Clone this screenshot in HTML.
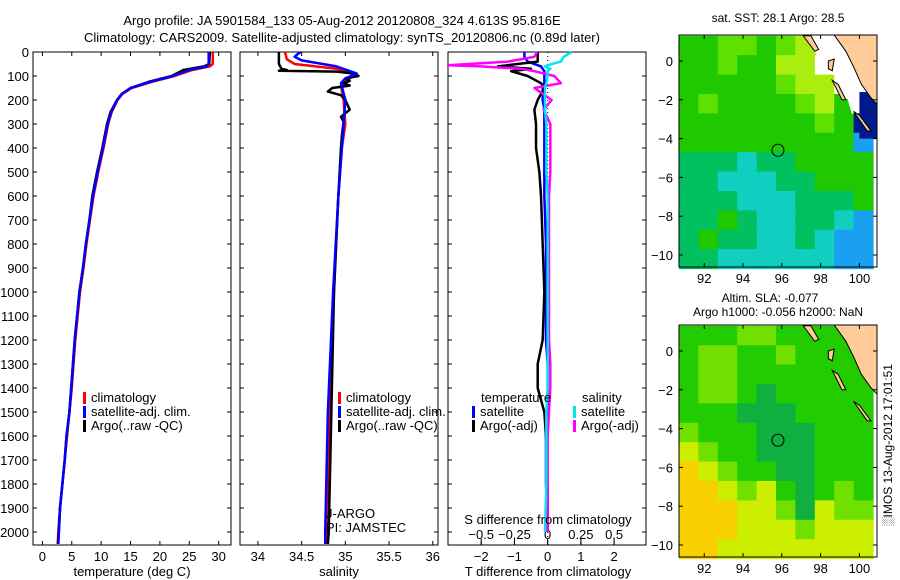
<!DOCTYPE html>
<html><head><meta charset="utf-8"><style>
body{margin:0;background:#fff}
svg{display:block;font-family:"Liberation Sans",sans-serif;font-size:13px}
</style></head><body>
<svg id="fig" width="900" height="580" viewBox="0 0 900 580" xmlns="http://www.w3.org/2000/svg">
<text x="342" y="25" text-anchor="middle">Argo profile: JA 5901584_133 05-Aug-2012 20120808_324 4.613S 95.816E</text>
<text x="342" y="42" text-anchor="middle">Climatology: CARS2009. Satellite-adjusted climatology: synTS_20120806.nc (0.89d later)</text>
<g id="g"></g>
</svg>
<script>
// ---- data ----
const tDepth=[0,50,60,75,100,125,150,175,200,250,300,400,500,600,700,800,900,1000,1100,1200,1300,1400,1500,1600,1700,1800,1900,2000,2050];
const tArgo=[28.5,28.4,27.5,24,22,18,15,13.5,12.7,11.6,11,10.2,9.3,8.5,8.0,7.4,6.9,6.3,5.9,5.5,5.2,4.9,4.6,4.1,3.8,3.4,3.0,2.8,2.7];
const tClim=[29.0,29.0,28.5,25.5,22.5,18.5,15.2,13.6,12.8,11.8,11.2,10.4,9.5,8.7,8.1,7.5,7.0,6.4,6.0,5.6,5.3,5.0,4.6,4.2,3.8,3.4,3.0,2.7,2.6];
const tSat=[28.3,28.3,28.0,25.0,22.2,18.2,15.0,13.5,12.7,11.7,11.1,10.3,9.4,8.6,8.0,7.4,6.9,6.3,5.9,5.5,5.2,4.9,4.6,4.1,3.8,3.4,3.0,2.8,2.7];
const sArgoD=[0,50,70,75,78,82,90,100,110,120,130,140,150,165,180,200,240,270,290,350,400,600,1000,1500,2000,2050];
const sArgo=[34.24,34.24,34.27,34.33,34.24,34.9,35.1,35.15,35.0,35.05,34.98,35.05,34.85,34.8,34.95,35.0,35.05,34.95,34.98,34.96,34.95,34.92,34.87,34.84,34.81,34.8];
const sClimD=[0,30,50,70,90,110,140,200,300,400,600,1000,1500,2000,2050];
const sClim=[34.31,34.33,34.42,34.9,35.12,35.05,34.95,34.98,35.0,34.96,34.92,34.87,34.82,34.79,34.78];
const sSatD=[0,10,20,35,60,90,110,130,200,300,600,1000,1500,2000,2050];
const sSat=[34.49,34.45,34.42,34.5,34.9,35.13,35.0,34.95,35.0,34.98,34.92,34.86,34.8,34.77,34.77];
const dD=[0,20,40,55,60,70,80,100,130,150,200,240,300,400,500,600,800,1000,1200,1300,1400,1500,1600,1800,2000];
const dTsat=[-0.7,-0.7,-0.6,-0.3,-0.2,-0.15,-0.1,-0.1,-0.1,-0.15,-0.15,-0.1,-0.1,-0.1,-0.1,-0.1,-0.05,-0.05,-0.05,0,0,0,-0.05,-0.05,0];
const dTargo=[-0.3,-0.3,-0.3,-1.2,-1.5,-0.5,-1.1,-0.6,-0.2,-0.1,-0.3,-0.4,-0.35,-0.35,-0.25,-0.2,-0.15,-0.1,-0.15,-0.3,-0.3,-0.1,-0.05,0,0];
const dSsat=[0.18,0.12,0.1,0.0,-0.02,0.02,0.0,0.0,-0.01,-0.02,-0.02,-0.02,-0.01,-0.01,-0.01,0,0,0,0,0,0,-0.01,-0.01,-0.01,-0.02];
const dSargo=[-0.08,-0.1,-0.3,-0.75,-0.5,-0.2,-0.1,0.05,0.1,-0.1,0.03,-0.03,0.02,0.02,0.02,0.01,0.01,0.01,0.01,0.02,0.02,0.01,0,0,0];
const depthTicks=[0,100,200,300,400,500,600,700,800,900,1000,1100,1200,1300,1400,1500,1600,1700,1800,1900,2000];
const tTicks=[0,5,10,15,20,25,30];
const sTicks=[34,34.5,35,35.5,36];
const tdTicks=[-2,-1,0,1,2];
const sdTicks=[-0.5,-0.25,0,0.25,0.5];
const sdLabels=["-0.5","-0.25","0","0.25","0.5"];
const sstRows=["GGLLGLYYWW","GGLGGYYWWW","GGGGGLYYWN","GLGGGGLYGN","GGGGGGGLGN","GGGGGGGGGB","TTTCTTGGGG","TTCCCTTGGG","TTTCCCTTTG","TTGTCCTTCB","TGTTCCTCBB","TTCCCCCCBB"];
const slaRows=["GGGLLGGGGG","GLLGGLGGGG","GLLGGGGGGG","GLLGDGGGGG","GGGDDDGGGG","LGGGDDDGGG","YLGGDDDGGG","OYLGGDDGGG","OOYLYGDGLG","OOOYYLDYLL","OOOYYYLYYY","OOYYYYYYYY"];
const sstPal={G:"#20c800",L:"#5ee000",Y:"#aaee10",T:"#00c060",C:"#10cfc0",B:"#1aa0f0",N:"#001a8a",W:"#ffffff"};
const slaPal={G:"#22cc00",D:"#10b040",L:"#70e000",Y:"#ccee00",O:"#f8d000"};
const floatLon=95.8, floatLat=-4.6;

const NS="http://www.w3.org/2000/svg";
const G=document.getElementById('g');
function el(t,a,p){const e=document.createElementNS(NS,t);for(const k in a)e.setAttribute(k,a[k]);(p||G).appendChild(e);return e;}
const top0=52, bot=545;
const yD=d=>top0+d*0.24;

function panel(name,x0,x1,xmin,xmax){
  const sx=v=>x0+(v-xmin)/(xmax-xmin)*(x1-x0);
  const r=el('rect',{x:x0,y:top0,width:x1-x0,height:bot-top0,fill:'none',stroke:'#000','stroke-width':1});
  
  
  depthTicks.forEach(d=>{
    el('line',{x1:x0,x2:x0+4,y1:yD(d),y2:yD(d),stroke:'#000'});
    el('line',{x1:x1-4,x2:x1,y1:yD(d),y2:yD(d),stroke:'#000'});
  });
  return sx;
}
function line(sx,xs,ds,col,name,w){
  const p=el('polyline',{points:xs.map((v,i)=>sx(v)+','+yD(ds[i])).join(' '),fill:'none',stroke:col,'stroke-width':w||2.5,'stroke-linejoin':'round'});
  
  
}
function txt(x,y,s,name,anchor,size){
  const t=el('text',{x:x,y:y,'text-anchor':anchor||'start'});
  if(size)t.setAttribute('font-size',size);
  t.textContent=s;
  
  
  return t;
}
function xticks(sx,ticks,labels,y){
  ticks.forEach((v,i)=>{
    el('line',{x1:sx(v),x2:sx(v),y1:bot,y2:bot-4,stroke:'#000'});
    el('line',{x1:sx(v),x2:sx(v),y1:top0,y2:top0+4,stroke:'#000'});
    txt(sx(v),y,labels?labels[i]:String(v),'x-tick-label','middle');
  });
}
function legItem(x,y,col,label,name){
  const r=el('rect',{x:x,y:y-10,width:3,height:12,fill:col});
  
  
  txt(x+8,y,label,name,'start');
}

depthTicks.forEach(d=>txt(29,yD(d)+5,String(d),'y-tick-label','end'));

const sx1=panel('temperature-panel',33,231,-1.6,32.1);
xticks(sx1,tTicks,null,561);
line(sx1,tClim,tDepth,'#ff0000','temp-climatology-line');
line(sx1,tArgo,tDepth,'#000000','temp-argo-line');
line(sx1,tSat,tDepth,'#0000ff','temp-satellite-line');
txt(132,576,'temperature (deg C)','x-axis-title-temperature','middle');
legItem(83,402,'#ff0000','climatology','legend-climatology');
legItem(83,416,'#0000ff','satellite-adj. clim.','legend-satellite');
legItem(83,430,'#000000','Argo(..raw -QC)','legend-argo');

const sx2=panel('salinity-panel',240,438,33.795,36.06);
xticks(sx2,sTicks,null,561);
line(sx2,sClim,sClimD,'#ff0000','sal-climatology-line');
line(sx2,sArgo,sArgoD,'#000000','sal-argo-line');
line(sx2,sSat,sSatD,'#0000ff','sal-satellite-line');
txt(339,576,'salinity','x-axis-title-salinity','middle');
legItem(338,402,'#ff0000','climatology','legend-climatology-2');
legItem(338,416,'#0000ff','satellite-adj. clim.','legend-satellite-2');
legItem(338,430,'#000000','Argo(..raw -QC)','legend-argo-2');
txt(326,518,'J-ARGO','pi-institution');
txt(326,532,'PI: JAMSTEC','pi-name');

const sx3=panel('difference-panel',448,646,-3,2.96);
const sxS=v=>sx3(v*4);
el('line',{x1:sx3(0),x2:sx3(0),y1:top0,y2:bot,stroke:'#000','stroke-dasharray':'1,3'});
tdTicks.forEach(v=>{el('line',{x1:sx3(v),x2:sx3(v),y1:bot,y2:bot-4,stroke:'#000'});txt(sx3(v),561,String(v).replace('-','\u2212'),'t-diff-tick','middle');});
sdTicks.forEach((v,i)=>{el('line',{x1:sxS(v),x2:sxS(v),y1:bot,y2:bot-6,stroke:'#000'});txt(sxS(v),539,sdLabels[i].replace('-','\u2212'),'s-diff-tick','middle');});
line(sx3,dTsat,dD,'#0000ff','t-diff-satellite-line');
line(sx3,dTargo,dD,'#000000','t-diff-argo-line');
line(sxS,dSargo,dD,'#ff00ff','s-diff-argo-line');
line(sxS,dSsat,dD,'#00e5ee','s-diff-satellite-line');
txt(548,524,'S difference from climatology','s-diff-axis-title','middle');
txt(548,576,'T difference from climatology','t-diff-axis-title','middle');
txt(481,402,'temperature','legend-temperature-heading');
legItem(472,416,'#0000ff','satellite','legend-t-satellite');
legItem(472,430,'#000000','Argo(-adj)','legend-t-argo');
txt(582,402,'salinity','legend-salinity-heading');
legItem(573,416,'#00e5ee','satellite','legend-s-satellite');
legItem(573,430,'#ff00ff','Argo(-adj)','legend-s-argo');

function map(name,y0,rows,pal,nodata){
  const x0=679,x1=877,y1=y0+232;
  const sx=l=>x0+(l-90.7)*19.4, sy=la=>y0+(1.34-la)*19.4;
  rows.forEach((row,ri)=>{[...row].forEach((c,ci)=>{
    const la=1.3-ri, lo=91+ci-0.3;
    const r=el('rect',{x:sx(lo),y:sy(la),width:20,height:20,fill:pal[c]});
    
    
  });});
  const clip='clip'+y0;
  const cp=el('clipPath',{id:clip});el('rect',{x:x0,y:y0,width:x1-x0,height:y1-y0},cp);
  const lg=el('g',{'clip-path':'url(#'+clip+')'});
  if(nodata){
    el('polygon',{points:`${sx(97.6)},${y0} ${x1+5},${y0} ${x1+5},${sy(-2.7)} ${sx(99.6)},${sy(-2.7)} ${sx(99.4)},${sy(-2.0)} ${sx(98.8)},${sy(-1.5)} ${sx(98.8)},${sy(-0.7)} ${sx(98.0)},${sy(-0.3)} ${sx(97.6)},${sy(0.8)}`,fill:'#fff'},lg);
    el('rect',{x:sx(100.0),y:sy(-1.6),width:sx(100.9)-sx(100.0),height:sy(-4.0)-sy(-1.6),fill:'#001a8a'},lg);
  }
  el('polygon',{points:`${sx(98.7)},${y0} ${x1+5},${y0} ${x1+5},${sy(-2.5)} ${sx(100.6)},${sy(-1.9)} ${sx(100.1)},${sy(-1.2)} ${sx(99.7)},${sy(-0.3)} ${sx(99.3)},${sy(0.5)}`,fill:'#ffcc99',stroke:'#000','stroke-width':1},lg);
  el('polygon',{points:`${sx(97.1)},${sy(1.3)} ${sx(97.5)},${sy(1.3)} ${sx(97.9)},${sy(0.6)} ${sx(97.7)},${sy(0.5)}`,fill:'#ffcc99',stroke:'#000'},lg);
  el('polygon',{points:`${sx(98.4)},${sy(0.0)} ${sx(98.7)},${sy(0.1)} ${sx(98.6)},${sy(-0.5)} ${sx(98.4)},${sy(-0.4)}`,fill:'#ffcc99',stroke:'#000'},lg);
  el('polygon',{points:`${sx(98.6)},${sy(-1.0)} ${sx(98.9)},${sy(-1.2)} ${sx(99.3)},${sy(-2.0)} ${sx(99.1)},${sy(-2.0)}`,fill:'#ffcc99',stroke:'#000'},lg);
  el('polygon',{points:`${sx(99.7)},${sy(-2.6)} ${sx(100.0)},${sy(-2.8)} ${sx(100.6)},${sy(-3.6)} ${sx(100.4)},${sy(-3.6)}`,fill:'#ffcc99',stroke:'#000'},lg);
  el('rect',{x:x0,y:y0,width:x1-x0,height:y1-y0,fill:'none',stroke:'#000'});
  [92,94,96,98,100].forEach(l=>{el('line',{x1:sx(l),x2:sx(l),y1:y1,y2:y1-4,stroke:'#000'});el('line',{x1:sx(l),x2:sx(l),y1:y0,y2:y0+4,stroke:'#000'});txt(sx(l),y1+16,String(l),name+'-lon-label','middle');});
  [0,-2,-4,-6,-8,-10].forEach(l=>{el('line',{x1:x0,x2:x0+4,y1:sy(l),y2:sy(l),stroke:'#000'});el('line',{x1:x1-4,x2:x1,y1:sy(l),y2:sy(l),stroke:'#000'});txt(673,sy(l)+5,String(l).replace('-','\u2212'),name+'-lat-label','end');});
  const c=el('circle',{cx:sx(floatLon),cy:sy(floatLat),r:6,fill:'none',stroke:'#000'});
  
  
}
map('sst-map',35,sstRows,sstPal,true);
map('sla-map',325,slaRows,slaPal,false);
txt(778,22,'sat. SST: 28.1 Argo: 28.5','sst-map-title','middle',12);
txt(770,302,'Altim. SLA: -0.077','sla-map-title-1','middle',12);
txt(778,316,'Argo h1000: -0.056 h2000: NaN','sla-map-title-2','middle',12);
const w=txt(0,0,'\u2591IMOS 13-Aug-2012 17:01:51','timestamp-watermark','middle',12);
w.setAttribute('transform','translate(892,445) rotate(-90)');
</script>
</body></html>
